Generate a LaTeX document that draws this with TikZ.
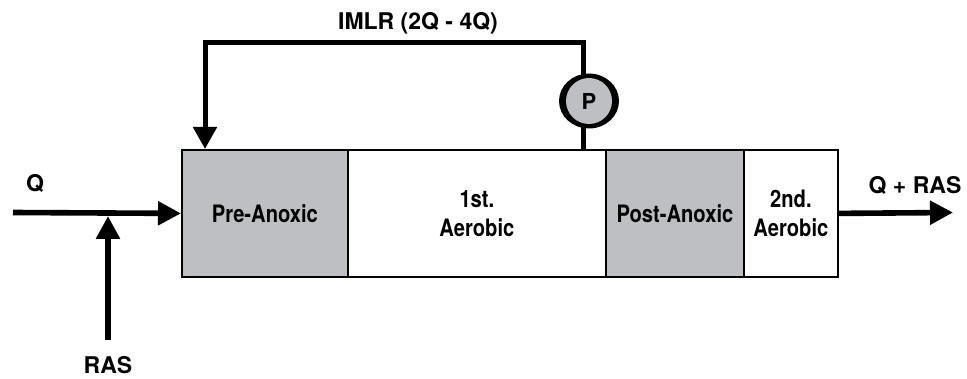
\documentclass[tikz,border=0pt]{standalone}
\usepackage{fontspec}
\setmainfont{TeX Gyre Heros}
\newfontfamily\condfont{TeX Gyre Heros}[FakeStretch=0.84]
\usetikzlibrary{arrows.meta}
\definecolor{zonegray}{RGB}{190,191,194}
\begin{document}
\begin{tikzpicture}[x=1pt,y=-1pt,
  flow/.style={line width=5.6pt,-{Triangle[length=23pt,width=23pt]}},
  looppipe/.style={line width=5pt,line join=miter},
  zone/.style={draw,line width=1.8pt,minimum height=127pt,inner sep=0pt,anchor=north west,
    font=\condfont\bfseries\fontsize{24}{29}\selectfont,align=center},
  grayzone/.style={zone,fill=zonegray},
  lab/.style={font=\bfseries\fontsize{23}{27}\selectfont,inner sep=0pt}]
\useasboundingbox (0,0) rectangle (967,379);
% reactor zones
\node[grayzone,minimum width=166pt] (pre) at (181,149) {Pre-Anoxic};
\node[zone,minimum width=258pt] (aer1) at (347,149) {1st.\\Aerobic};
\node[grayzone,minimum width=138pt] (post) at (605,149) {Post-Anoxic};
\node[zone,minimum width=94pt] (aer2) at (743,149) {2nd.\\Aerobic};
% influent
\coordinate (qin) at (13,212.5);
\coordinate (rasin) at (108,340);
\coordinate (rasjoin) at (108,216);
\coordinate (qout) at (953,212.5);
\draw[flow] (qin) -- (pre.west);
\draw[flow] (rasin) -- (rasjoin);
\draw[flow] (aer2.east) -- (qout);
% internal recycle
\coordinate (tr) at (583,43);
\coordinate (tl) at (205,43);
\draw[looppipe,-{Triangle[length=22pt,width=23pt]}] (aer1.north -| tr) -- (tr) -- (tl) -- (pre.north -| tl);
% pump
\fill[black] (589,101) ellipse [x radius=30, y radius=27.5];
\node[circle,fill=zonegray,minimum size=46pt,inner sep=0pt,font=\bfseries\fontsize{22}{26}\selectfont] (pump) at (589,101) {P};
% labels
\node[lab] (qlab) at (35,183) {Q};
\node[lab] (raslab) at (108,365) {RAS};
\node[lab] (imlr) at (418,23) {IMLR (2Q - 4Q)};
\node[lab] (outlab) at (915,185) {Q + RAS};
\end{tikzpicture}
\end{document}
